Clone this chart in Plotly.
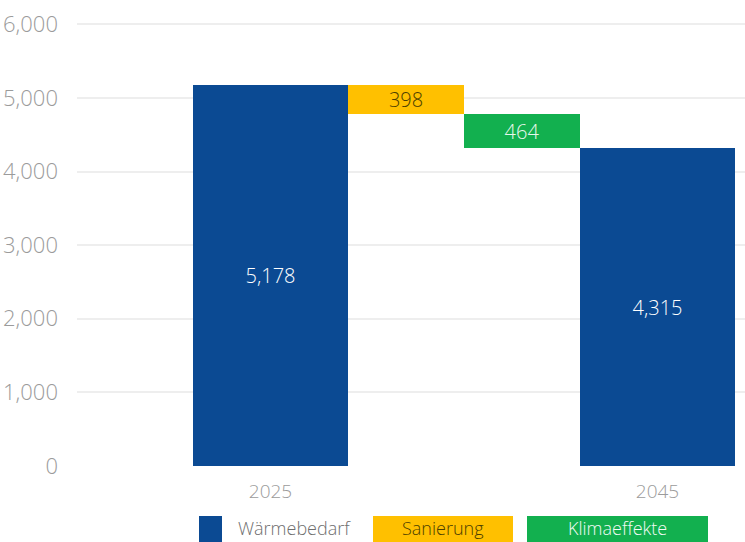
import plotly.graph_objects as go

# Heat demand bridge 2025 -> 2045
steps = ["2025", "Sanierung", "Klimaeffekte", "2045"]
start_value = 5178
sanierung = 398
klimaeffekte = 464
end_value = 4315

y_ticks = [0, 1000, 2000, 3000, 4000, 5000, 6000]

BLUE = "#0b4a93"
YELLOW = "#ffc000"
GREEN = "#12b04f"
GREY = "#9b9b9b"
FONT = "Open Sans"

# bar geometry on a numeric x axis (wide totals, narrow deltas)
centers = [1.935, 3.29, 4.45, 5.805]
widths = [1.55, 1.16, 1.16, 1.55]

heights = [start_value, sanierung, klimaeffekte, end_value]
bases = [0, start_value - sanierung, start_value - sanierung - klimaeffekte, 0]
colors = [BLUE, YELLOW, GREEN, BLUE]
text_colors = ["#ffffff", "#4d3f00", "#e8f7ec", "#ffffff"]

fig = go.Figure(
    go.Bar(
        x=centers,
        y=heights,
        base=bases,
        width=widths,
        marker=dict(color=colors, line=dict(width=0)),
        text=[f"{v:,}" for v in heights],
        textposition="inside",
        insidetextanchor="middle",
        textangle=0,
        constraintext="none",
        textfont=dict(family=FONT, size=20, weight=300, color=text_colors),
        hoverinfo="skip",
        showlegend=False,
    )
)

fig.update_layout(
    width=745,
    height=542,
    margin=dict(l=77, r=0, t=17, b=76),
    plot_bgcolor="white",
    paper_bgcolor="white",
    font=dict(family=FONT, color=GREY, size=20),
    uniformtext=dict(minsize=20, mode="show"),
    bargap=0,
)

fig.update_xaxes(
    range=[0, 6.68],
    tickvals=[centers[0], centers[3]],
    ticktext=[steps[0], steps[3]],
    showgrid=False,
    zeroline=False,
    showline=False,
    ticks="",
    ticklabelstandoff=12,
    tickfont=dict(family=FONT, size=19, weight=300, color=GREY),
)

fig.update_yaxes(
    range=[0, 6100],
    tickvals=y_ticks,
    ticktext=[f"{v:,}" for v in y_ticks],
    showgrid=True,
    gridcolor="#eeeeee",
    gridwidth=1.5,
    zeroline=False,
    showline=False,
    ticks="",
    ticklabelstandoff=18,
    tickfont=dict(family=FONT, size=22, weight=300, color=GREY),
)

# legend row below the axis
def px_x(p):
    return (p - 77) / 668

def px_y(p):
    return (466 - p) / 449

legend_boxes = [
    (199, 222, BLUE),
    (373, 513, YELLOW),
    (527, 708, GREEN),
]
for x0, x1, c in legend_boxes:
    fig.add_shape(
        type="rect", xref="paper", yref="paper",
        x0=px_x(x0), x1=px_x(x1), y0=px_y(516), y1=px_y(560),
        fillcolor=c, line=dict(width=0), layer="above",
    )

legend_font = dict(family=FONT, size=18, weight=300)
fig.add_annotation(
    text="Wärmebedarf", xref="paper", yref="paper",
    x=px_x(236), y=px_y(528), xanchor="left", yanchor="middle",
    showarrow=False, font=dict(legend_font, color="#6e6e6e"),
)
fig.add_annotation(
    text="Sanierung", xref="paper", yref="paper",
    x=px_x(443), y=px_y(528), xanchor="center", yanchor="middle",
    showarrow=False, font=dict(legend_font, color="#4d3f00"),
)
fig.add_annotation(
    text="Klimaeffekte", xref="paper", yref="paper",
    x=px_x(617.5), y=px_y(528), xanchor="center", yanchor="middle",
    showarrow=False, font=dict(legend_font, color="#f2fbf5"),
)

fig.write_html("out.html")
